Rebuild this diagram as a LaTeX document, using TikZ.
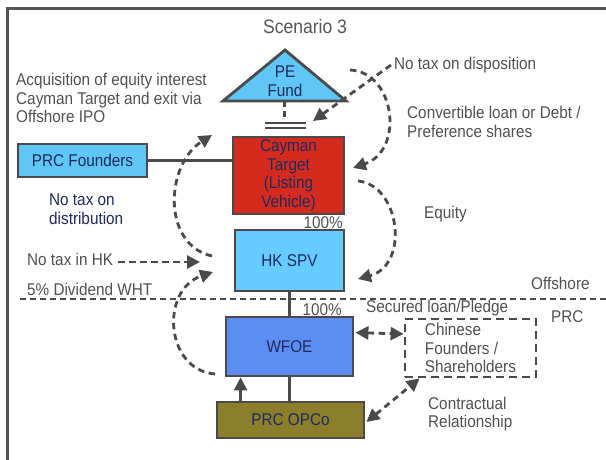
\documentclass[tikz,border=0pt]{standalone}
\usepackage{fontspec}
\setmainfont[FakeStretch=0.9]{Liberation Sans}
\usetikzlibrary{arrows.meta,calc}
\definecolor{edge}{HTML}{4A4A4A}
\definecolor{framegray}{HTML}{555555}
\definecolor{txt}{HTML}{505050}
\definecolor{navy}{HTML}{1E2A5C}
\definecolor{skyfill}{HTML}{5FC6F5}
\definecolor{hkfill}{HTML}{66CCFF}
\definecolor{redfill}{HTML}{D42B1E}
\definecolor{wfoefill}{HTML}{5B8DF2}
\definecolor{olivefill}{HTML}{8C7E2B}

\begin{document}
\begin{tikzpicture}[x=1pt,y=-1pt,
  every node/.style={font=\fontsize{17}{18.5}\selectfont, inner sep=0pt, text=txt},
  entity/.style={draw=edge, line width=2.8pt, text=navy, align=center},
  note/.style={align=left, anchor=west},
  solidline/.style={draw=edge, line width=2.8pt},
  flow/.style={draw=edge, line width=2.8pt, dash pattern=on 6.5pt off 4.5pt,
    -{Triangle[length=13pt,width=13pt]}},
  twoway/.style={flow, {Triangle[length=13pt,width=13pt]}-{Triangle[length=13pt,width=13pt]}},
  tip/.style={-{Triangle[length=13pt,width=13pt]}}
]
\useasboundingbox (0,0) rectangle (606,460);

% outer frame (left and top edges)
\draw[framegray, line width=3pt] (7.5,460) -- (7.5,9) -- (606,9);

% title
\node[font=\fontsize{19.5}{22}\selectfont, text=framegray] (title) at (305,27) {Scenario 3};

% PE fund triangle
\coordinate (peApex) at (285,50);
\coordinate (peL) at (223,101);
\coordinate (peR) at (346,101);
\draw[fill=skyfill, draw=edge, line width=2.8pt, line join=miter] (peL) -- (peApex) -- (peR) -- cycle;
\node[text=navy, align=center] (pe) at (285,81) {PE\\Fund};

% double bar under the fund
\node[minimum width=41pt, minimum height=5pt] (bar) at (285.5,125.5) {};
\draw[solidline, line width=2.2pt] (bar.north west) -- (bar.north east);
\draw[solidline, line width=2.2pt] (bar.south west) -- (bar.south east);
\draw[draw=edge, line width=2.6pt, dash pattern=on 6pt off 4.5pt] ($(peL)!0.5!(peR)$) -- (bar.north -| 284.5,0);

% entities
\node[entity, fill=redfill, minimum width=111pt, minimum height=77pt] (cay) at (288.5,175.5) {Cayman\\Target\\(Listing\\Vehicle)};
\node[entity, fill=skyfill, minimum width=129pt, minimum height=33pt] (found) at (82.5,160.5) {PRC Founders};
\node[entity, fill=hkfill, minimum width=109pt, minimum height=61pt] (hk) at (289.5,260.5) {HK SPV};
\node[entity, fill=wfoefill, minimum width=127pt, minimum height=59pt] (wfoe) at (289.5,346.5) {WFOE};
\node[entity, fill=olivefill, minimum width=147pt, minimum height=36pt] (opco) at (290.5,420) {PRC OPCo};
\node[draw=edge, line width=2.8pt, dash pattern=on 8pt off 5pt, align=left,
  minimum width=131pt, minimum height=58pt] (chin) at (470.5,348) {Chinese\\Founders /\\Shareholders};

% ownership lines
\draw[solidline] (found.east) -- (found.east -| cay.west);
\draw[solidline] (hk.south) -- (hk.south |- wfoe.north);
\draw[solidline] (wfoe.south) -- (wfoe.south |- opco.north);
\draw[solidline, tip] ($(opco.north west)+(25,0)$) -- ($(wfoe.south west)+(16,0)$);

% percentage labels
\node[anchor=base east] (pctA) at (343,228) {100\%};
\node[anchor=base east] (pctB) at (342,315) {100\%};

% offshore / PRC divider
\coordinate (shoreL) at (20,299);
\coordinate (shoreR) at (606,299);
\draw[draw=edge, line width=2.4pt, dash pattern=on 6pt off 4pt] (shoreL) -- (shoreR);
\node[note] (offs) at (531,283) {Offshore};
\node[note] (prc) at (551,317) {PRC};

% side labels
\node[note] (acq) at (16,98) {Acquisition of equity interest\\Cayman Target and exit via\\Offshore IPO};
\node[note, text=navy] (dist) at (49,209) {No tax on\\distribution};
\node[note] (disp) at (394,65) {No tax on disposition};
\node[note] (conv) at (407,122) {Convertible loan or Debt /\\Preference shares};
\node[note] (eq) at (424,214) {Equity};
\node[note] (hktax) at (27,259) {No tax in HK};
\node[note] (wht) at (27,289) {5\% Dividend WHT};
\node[note] (sec) at (366,308) {Secured loan/Pledge};
\node[note] (contr) at (428,414) {Contractual\\Relationship};

% flow arrows
\coordinate (t1) at (313,121);
\draw[flow] ($(disp.west)+(-3,0)$) -- (t1);
\coordinate (convS) at (350,70);
\coordinate (convE) at (353,168);
\draw[flow] (convS) .. controls (395,72) and (405,150) .. (convE);
\coordinate (eqS) at (358,181);
\coordinate (eqE) at (358,279);
\draw[flow] (eqS) .. controls (400,185) and (410,265) .. (eqE);
\coordinate (acqS) at (212,256);
\coordinate (acqE) at (212,135);
\draw[flow] (acqS) .. controls (162,245) and (165,165) .. (acqE);
\coordinate (hkE) at (200,262);
\draw[flow] ($(hktax.east)+(5,3)$) -- (hkE);
\coordinate (divS) at (215,374);
\coordinate (divE) at (213,272);
\draw[flow] (divS) .. controls (165,370) and (160,290) .. (divE);
\draw[twoway] ($(wfoe.north east)+(1,17)$) -- ($(chin.west)+(0,-14)$);
\draw[twoway] ($(opco.east)+(1,2)$) -- ($(chin.south west)+(16,0)$);
\end{tikzpicture}
\end{document}
